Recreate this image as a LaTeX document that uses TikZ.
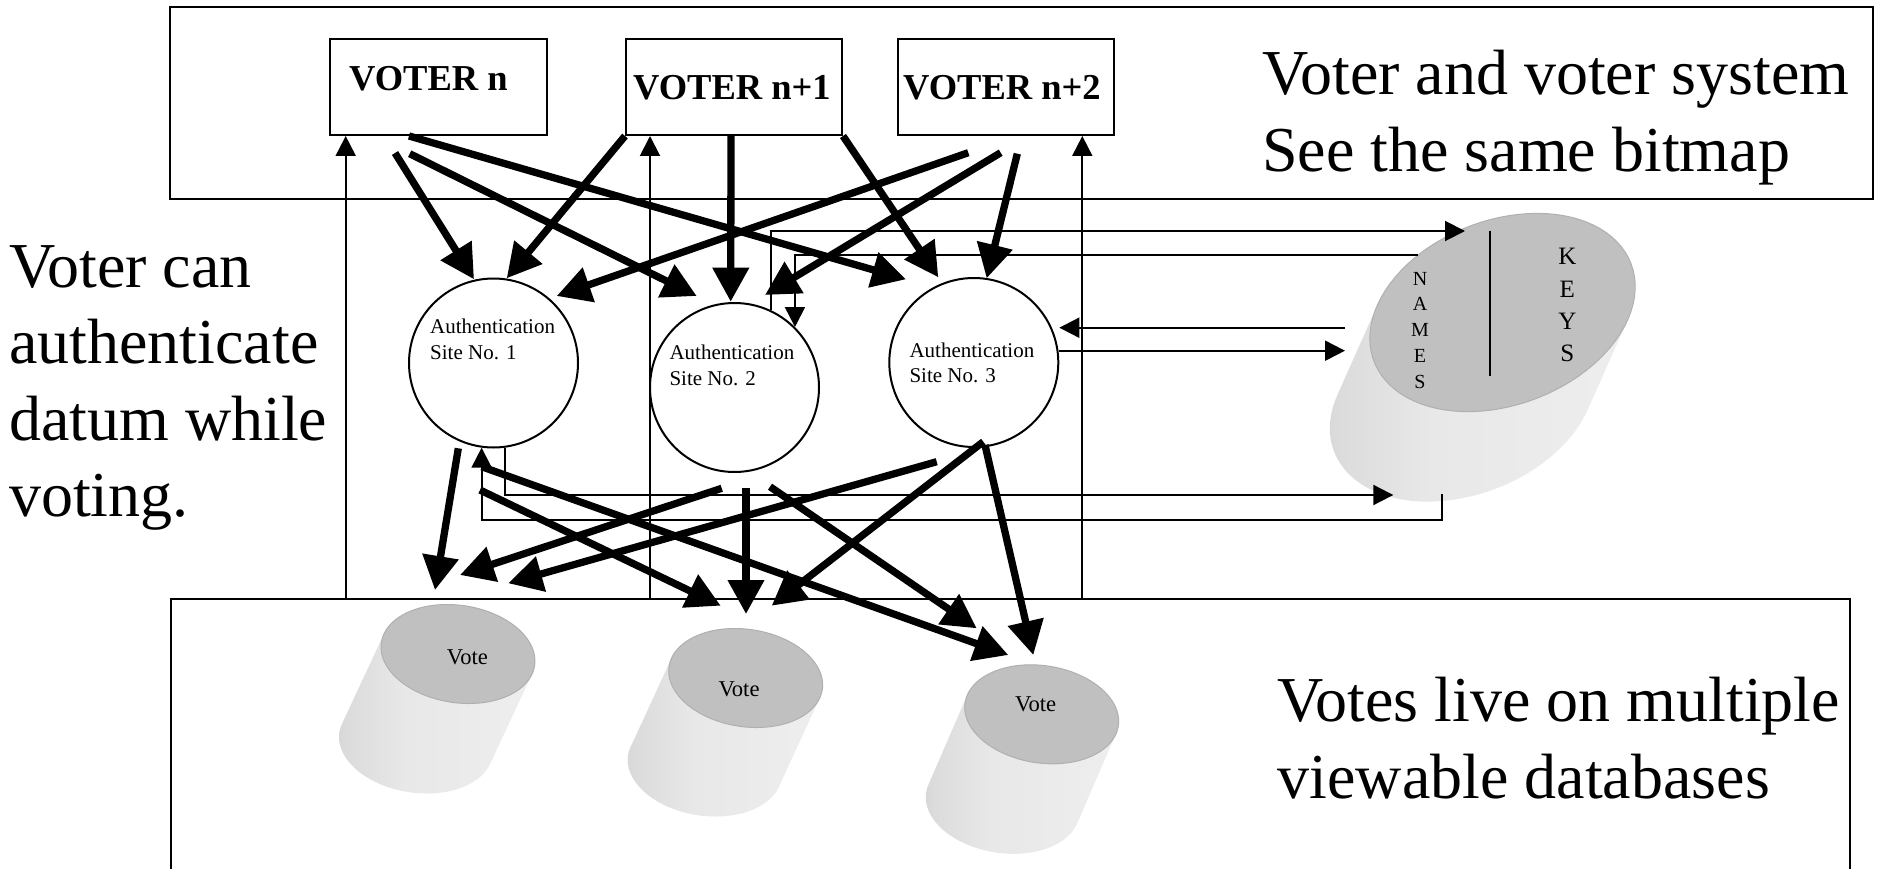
\documentclass[tikz,border=0pt]{standalone}
\usepackage{fontspec}
\setmainfont{Liberation Serif}
\usetikzlibrary{arrows.meta}

\definecolor{facegray}{RGB}{192,192,192}
\definecolor{facerim}{RGB}{176,176,176}

% side of a drum: soft stripe on the left, light towards the right
\pgfdeclarehorizontalshading{drumside}{100bp}{%
  rgb(0bp)=(0.89,0.89,0.89);
  rgb(10bp)=(0.87,0.87,0.87);
  rgb(19bp)=(0.80,0.80,0.80);
  rgb(27bp)=(0.86,0.86,0.86);
  rgb(42bp)=(0.91,0.91,0.91);
  rgb(70bp)=(0.93,0.93,0.93);
  rgb(100bp)=(0.91,0.91,0.91)}

% tilted drum: #1,#2 centre of the top face, #3,#4 semi-axes,
% #5 tilt of the face (degrees), #6,#7 offset of the bottom face
\newcommand\drum[7]{%
  \pgfmathsetmacro\drC{cos(#5)}%
  \pgfmathsetmacro\drS{sin(#5)}%
  \pgfmathsetmacro\drP{(#6)*\drC-(#7)*\drS}%
  \pgfmathsetmacro\drQ{(#6)*\drS+(#7)*\drC}%
  \pgfmathsetmacro\drTa{atan2(-(#4)*(\drP),(#3)*(\drQ))}%
  \pgfmathsetmacro\drTb{\drTa+180}%
  \pgfmathsetmacro\drTc{\drTa+360}%
  \begin{scope}
    \clip plot[domain=\drTa:\drTb, samples=60]
        ({#1+(#6)+#3*cos(\x)*\drC+#4*sin(\x)*\drS},{#2+(#7)-#3*cos(\x)*\drS+#4*sin(\x)*\drC})
      -- plot[domain=\drTb:\drTc, samples=60]
        ({#1+#3*cos(\x)*\drC+#4*sin(\x)*\drS},{#2-#3*cos(\x)*\drS+#4*sin(\x)*\drC})
      -- cycle;
    \shade[shading=drumside]
      ({#1-#3+(#6)},{#2-#3-5}) rectangle ({#1+#3},{#2+#3+(#7)+5});
  \end{scope}
  \fill[facegray] plot[domain=0:360, samples=90]
      ({#1+#3*cos(\x)*\drC+#4*sin(\x)*\drS},{#2-#3*cos(\x)*\drS+#4*sin(\x)*\drC}) -- cycle;
  \draw[facerim, line width=1pt] plot[domain=0:360, samples=90]
      ({#1+#3*cos(\x)*\drC+#4*sin(\x)*\drS},{#2-#3*cos(\x)*\drS+#4*sin(\x)*\drC}) -- cycle;
}

\begin{document}
\begin{tikzpicture}[x=1pt, y=-1pt,
  sysbox/.style={draw, line width=2pt, inner sep=0pt, outer sep=0pt},
  voterbox/.style={draw, line width=2pt, minimum height=96pt, inner sep=0pt},
  site/.style={draw, circle, line width=2pt, fill=white, minimum size=169pt, inner sep=0pt},
  heavyarrow/.style={line width=7.3pt, -{Triangle[length=34pt,width=35pt]}},
  lightarrow/.style={line width=2pt, -{Triangle[length=20pt,width=20pt]}},
  lightline/.style={line width=2pt},
  bigtext/.style={font=\fontsize{64}{76.7}\selectfont, inner sep=0pt, anchor=base west},
  votertext/.style={font=\fontsize{36.5}{40}\selectfont\bfseries, inner sep=0pt, anchor=base west},
  sitetext/.style={font=\fontsize{21}{25}\selectfont, inner sep=0pt, anchor=base west},
  votetext/.style={font=\fontsize{22.6}{26}\selectfont, inner sep=0pt, anchor=base west},
  namesletter/.style={font=\fontsize{20}{22}\selectfont, inner sep=0pt, anchor=base},
  keysletter/.style={font=\fontsize{25}{28}\selectfont, inner sep=0pt, anchor=base}]

\useasboundingbox (0,0) rectangle (1877,869);
\clip (0,0) rectangle (1877,869);

% the two frames
\node[sysbox, minimum width=1703pt, minimum height=192pt] (sysframe) at (1021.5,103) {};
\node[sysbox, minimum width=1679pt, minimum height=302pt] (dbframe) at (1010.5,750.3) {};

% vote databases
\drum{458}{654}{77.5}{48.7}{-8.6}{-42}{90}
\drum{745.7}{678}{77.5}{48.7}{-8.6}{-41}{89}
\drum{1041.7}{714.3}{77.5}{48.7}{-8.6}{-39}{90}
\coordinate (v1) at (458,654);
\coordinate (v2) at (745.7,678);
\coordinate (v3) at (1041.7,714.3);
\node[votetext] (v1t) at (446.7,664) {Vote};
\node[votetext] (v2t) at (718.3,696) {Vote};
\node[votetext] (v3t) at (1015,711.7) {Vote};

% names and keys database
\drum{1502.5}{312.5}{137.5}{92.4}{20.7}{-40}{90}
\coordinate (keys) at (1502.5,312.5);
\draw[lightline] (1490,230.7) -- (1490,376);
\foreach \ch [count=\i from 0] in {N,A,M,E,S}
  \node[namesletter] (nm\i) at (1420,{285+25.8*\i}) {\ch};
\foreach \ch [count=\i from 0] in {K,E,Y,S}
  \node[keysletter] (ky\i) at (1567.3,{265+32.2*\i}) {\ch};
\coordinate (keys-l1) at (1442.3,494.3);
\coordinate (keys-l2) at (1393.3,495);
\coordinate (keys-l3) at (1465,231);
\coordinate (keys-l4) at (1418.3,255);
\coordinate (keys-l5) at (1345,327.7);
\coordinate (keys-l6) at (1345,350.7);

% voters
\node[voterbox, minimum width=217pt] (vn) at (438.5,87) {};
\node[voterbox, minimum width=216pt] (vn1) at (734,87) {};
\node[voterbox, minimum width=216pt] (vn2) at (1006,87) {};
\node[votertext] (vnt) at (349,91) {VOTER n};
\node[votertext] (vn1t) at (633,100) {VOTER n+1};
\node[votertext] (vn2t) at (903,100) {VOTER n+2};

% authentication sites
\node[site] (e1) at (493.5,363) {};
\node[site] (e2) at (734.5,387.5) {};
\node[site] (e3) at (973.8,362.5) {};
\node[sitetext] (e1a) at (430,333.3) {Authentication};
\node[sitetext] (e1b) at (430,359.3) {Site No. 1};
\node[sitetext] (e2a) at (669.3,359.3) {Authentication};
\node[sitetext] (e2b) at (669.3,385) {Site No. 2};
\node[sitetext] (e3a) at (909.3,357.3) {Authentication};
\node[sitetext] (e3b) at (909.3,382.3) {Site No. 3};

% captions
\node[bigtext] (c1) at (9,287.3) {Voter can};
\node[bigtext] (c2) at (9,363.7) {authenticate};
\node[bigtext] (c3) at (9,440.1) {datum while};
\node[bigtext] (c4) at (9,516.5) {voting.};
\node[bigtext] (c5) at (1262,95) {Voter and voter system};
\node[bigtext] (c6) at (1262,171.7) {See the same bitmap};
\node[bigtext] (c7) at (1277.5,721.7) {Votes live on multiple};
\node[bigtext] (c8) at (1277.5,798.3) {viewable databases};

% voters see the stored votes
\coordinate (t1) at (345.7,599.3);
\coordinate (t2) at (650,599.3);
\coordinate (t3) at (1082.3,599.3);
\draw[lightarrow] (t1) -- (t1 |- vn.south);
\draw[lightarrow] (t2) -- (t2 |- vn1.south);
\draw[lightarrow] (t3) -- (t3 |- vn2.south);

% traffic between the sites and the key store
\draw[lightarrow] (keys-l1) |- ([yshift=-72.6pt]e1.262) -- (e1.262);
\draw[lightarrow] (e1.278) |- (keys-l2);
\draw[lightarrow] (e2.65) |- (keys-l3);
\draw[lightarrow] (keys-l4) -| (e2.45);
\draw[lightarrow] (keys-l5) -- (e3.east |- keys-l5);
\draw[lightarrow] (e3.east |- keys-l6) -- (keys-l6);

% voters to sites
\draw[heavyarrow] ([shift={(66,17)}]vn.south west) -- ([shift={(-19.5,-83.7)}]e1.center);
\draw[heavyarrow] ([shift={(80.7,17.7)}]vn.south west) -- ([shift={(-37.8,-91.5)}]e2.center);
\draw[heavyarrow] ([shift={(80,0)}]vn.south west) -- ([shift={(-67.8,-83.2)}]e3.center);
\draw[heavyarrow] (vn1.south west) -- ([shift={(13.2,-84.7)}]e1.center);
\draw[heavyarrow] ([xshift=-3pt]vn1.south) -- ([shift={(-3.8,-85.8)}]e2.center);
\draw[heavyarrow] (vn1.south east) -- ([shift={(-35.5,-85.2)}]e3.center);
\draw[heavyarrow] ([shift={(71.3,16.7)}]vn2.south west) -- ([shift={(63.2,-67)}]e1.center);
\draw[heavyarrow] ([shift={(103.7,16.7)}]vn2.south west) -- ([shift={(30.5,-92.5)}]e2.center);
\draw[heavyarrow] ([shift={(120.3,17.7)}]vn2.south west) -- ([shift={(12.9,-84.2)}]e3.center);

% sites to vote databases
\draw[heavyarrow] ([shift={(-35.2,85.3)}]e1.center) -- ([shift={(-23,-64)}]v1);
\draw[heavyarrow] ([shift={(-13.5,127)}]e1.center) -- ([shift={(-25,-72.3)}]v2);
\draw[heavyarrow] ([shift={(-11.8,103.7)}]e1.center) -- ([shift={(-33.4,-59.3)}]v3);
\draw[heavyarrow] ([shift={(-12.8,100.8)}]e2.center) -- ([shift={(2,-79)}]v1);
\draw[heavyarrow] ([shift={(11.5,100.8)}]e2.center) -- ([shift={(0.3,-64)}]v2);
\draw[heavyarrow] ([shift={(35.5,99.2)}]e2.center) -- ([shift={(-65,-86)}]v3);
\draw[heavyarrow] ([shift={(-37.1,99.2)}]e3.center) -- ([shift={(50.3,-70.7)}]v1);
\draw[heavyarrow] ([shift={(9.5,79.2)}]e3.center) -- ([shift={(26,-72.3)}]v2);
\draw[heavyarrow] ([shift={(11.2,82.5)}]e3.center) -- ([shift={(-8.4,-59.3)}]v3);
\end{tikzpicture}
\end{document}
